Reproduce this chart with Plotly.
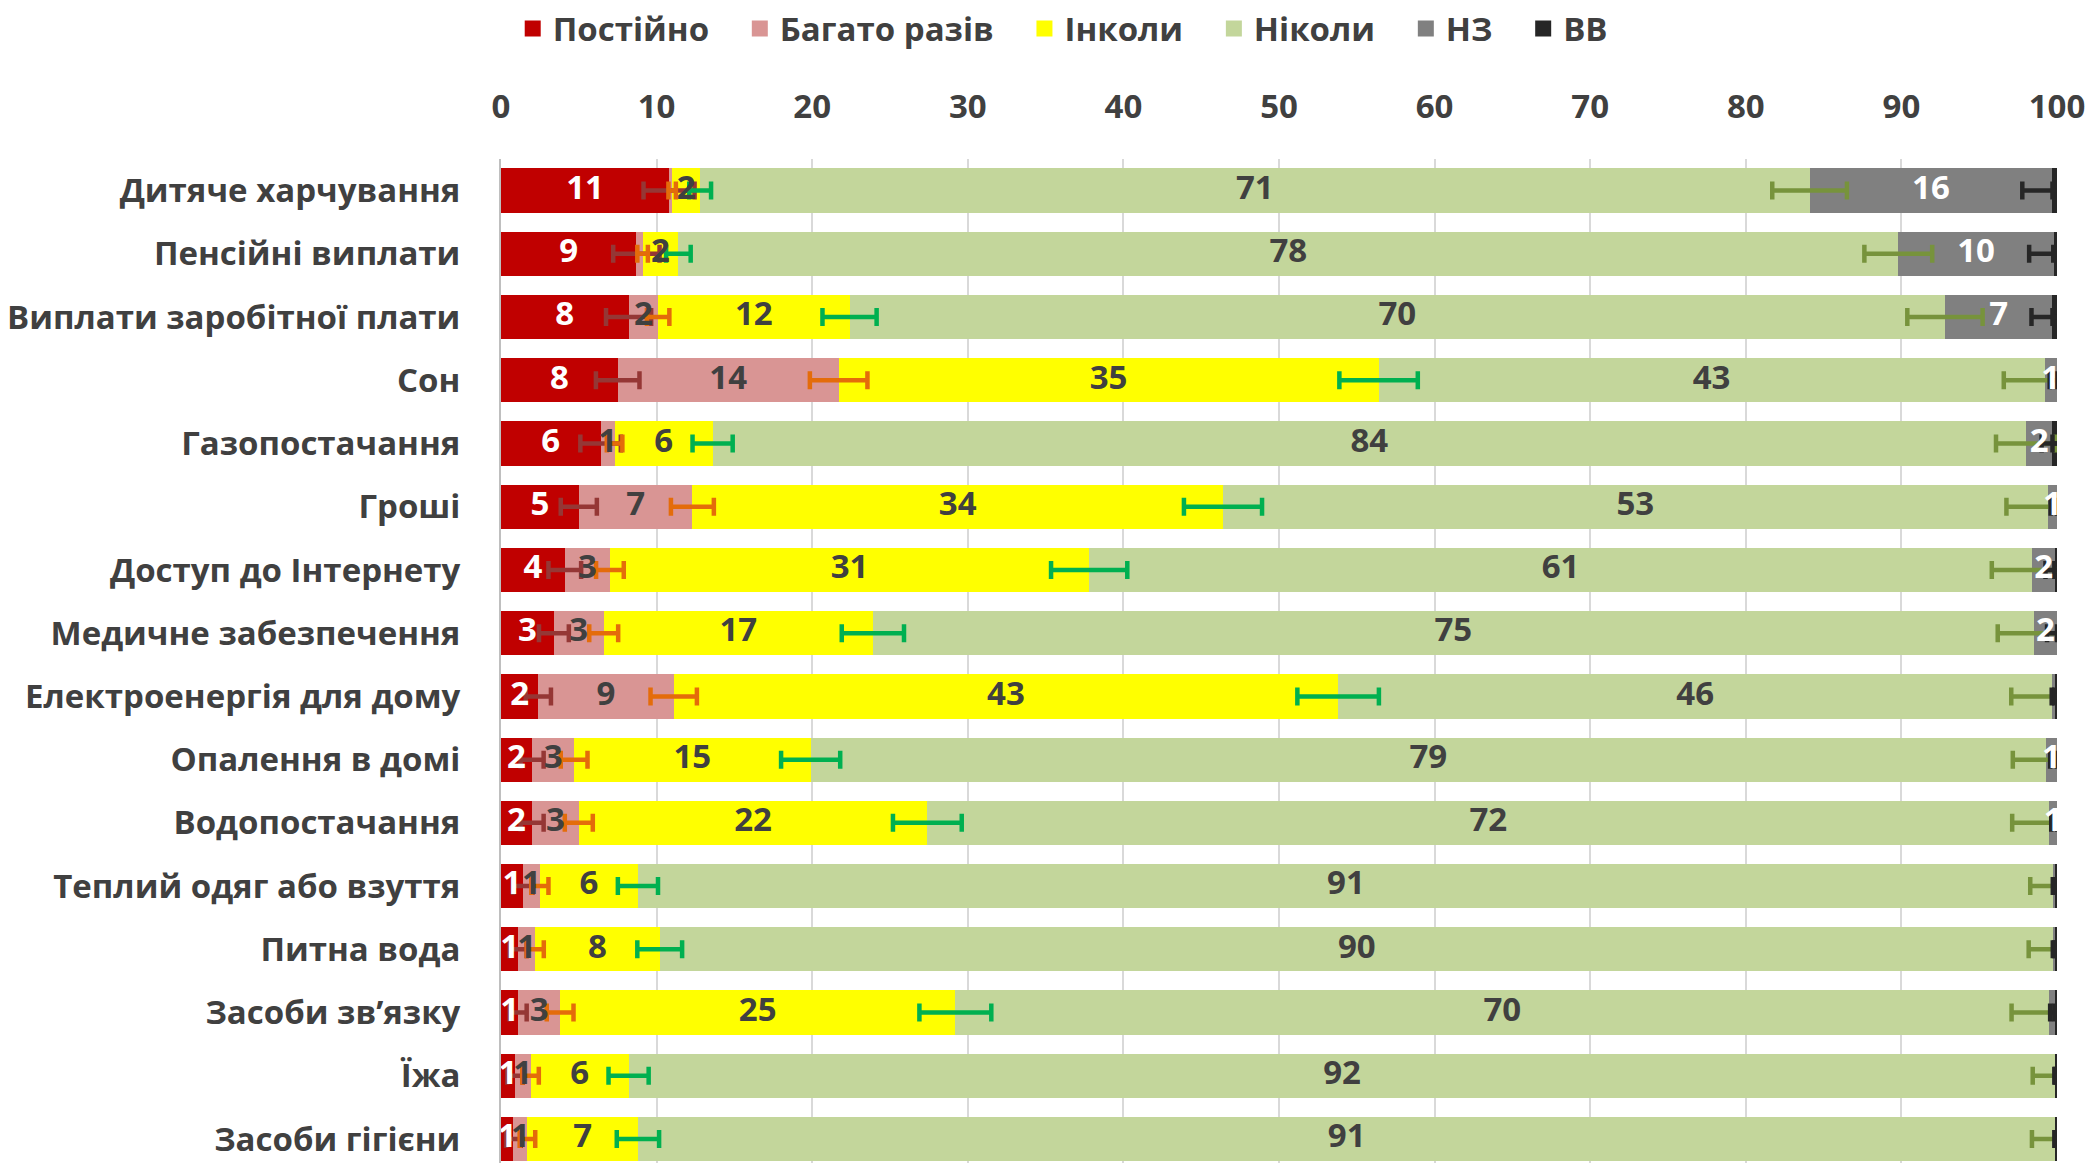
import plotly.graph_objects as go

categories = ["Дитяче харчування", "Пенсійні виплати", "Виплати заробітної плати", "Сон",
              "Газопостачання", "Гроші", "Доступ до Інтернету", "Медичне забезпечення",
              "Електроенергія для дому", "Опалення в домі", "Водопостачання",
              "Теплий одяг або взуття", "Питна вода", "Засоби зв’язку", "Їжа", "Засоби гігієни"]

series_names = ["Постійно", "Багато разів", "Інколи", "Ніколи", "НЗ", "ВВ"]

postiino = [10.8, 8.7, 8.2, 7.5, 6.4, 5.0, 4.1, 3.4, 2.4, 2.0, 2.0, 1.4, 1.1, 1.1, 0.9, 0.8]
bagato = [0.2, 0.4, 1.9, 14.2, 0.9, 7.3, 2.9, 3.2, 8.7, 2.7, 3.0, 1.1, 1.1, 2.7, 1.0, 0.9]
inkoly = [1.8, 2.3, 12.3, 34.7, 6.3, 34.1, 30.8, 17.3, 42.7, 15.2, 22.4, 6.3, 8.0, 25.4, 6.3, 7.1]
nikoly = [71.3, 78.4, 70.4, 42.8, 84.4, 53.0, 60.6, 74.6, 45.9, 79.4, 72.1, 91.0, 89.6, 70.3, 91.7, 91.1]
nz = [15.6, 10.0, 6.9, 0.8, 1.7, 0.6, 1.5, 1.5, 0.2, 0.7, 0.5, 0.1, 0.1, 0.4, 0.0, 0.0]
vv = [0.3, 0.2, 0.3, 0.0, 0.3, 0.0, 0.1, 0.0, 0.1, 0.0, 0.0, 0.1, 0.1, 0.1, 0.1, 0.1]

# error margins (+/-)
err_postiino = [1.64, 1.49, 1.45, 1.40, 1.30, 1.16, 1.05, 0.96, 0.81, 0.74, 0.74, 0.62, 0.55, 0.55, 0.50, 0.47]
err_bagato = [0.24, 0.34, 0.72, 1.85, 0.50, 1.38, 0.89, 0.93, 1.49, 0.86, 0.90, 0.55, 0.55, 0.86, 0.53, 0.50]
err_inkoly = [0.70, 0.79, 1.74, 2.52, 1.29, 2.51, 2.45, 2.00, 2.62, 1.90, 2.21, 1.29, 1.44, 2.31, 1.29, 1.36]
err_nikoly = [2.40, 2.18, 2.42, 2.62, 1.92, 2.65, 2.59, 2.31, 2.64, 2.14, 2.38, 1.52, 1.62, 2.42, 1.46, 1.51]
err_nz = [1.93, 1.59, 1.34, 0.47, 0.69, 0.41, 0.64, 0.64, 0.24, 0.44, 0.37, 0.17, 0.17, 0.34, 0.0, 0.0]
err_vv = [0.29, 0.24, 0.29, 0.0, 0.29, 0.0, 0.17, 0.0, 0.17, 0.0, 0.0, 0.17, 0.17, 0.17, 0.17, 0.17]

x_ticks = [0, 10, 20, 30, 40, 50, 60, 70, 80, 90, 100]

values = [postiino, bagato, inkoly, nikoly, nz, vv]
errors = [err_postiino, err_bagato, err_inkoly, err_nikoly, err_nz, err_vv]
bar_colors = ["#C00000", "#D99594", "#FFFF00", "#C3D69B", "#808080", "#262626"]
err_colors = ["#953735", "#E46C0A", "#00B050", "#77933C", "#262626", "#262626"]
label_colors = ["#FFFFFF", "#404040", "#404040", "#404040", "#FFFFFF", "#FFFFFF"]

FONT = "Open Sans"
FS = 33
TXT = "#404040"

fig = go.Figure()

# stacked bars
for name, vals, col in zip(series_names, values, bar_colors):
    fig.add_trace(go.Bar(
        y=categories, x=vals, name=name, orientation="h",
        marker=dict(color=col, line=dict(width=0)),
        showlegend=False, hoverinfo="x+name",
    ))

# cumulative positions
cum_end = []
cum_mid = []
running = [0.0] * len(categories)
for vals in values:
    mids = [r + v / 2 for r, v in zip(running, vals)]
    running = [r + v for r, v in zip(running, vals)]
    cum_mid.append(mids)
    cum_end.append(list(running))

# error bars at the end of each segment
for name, ends, errs, ecol in zip(series_names, cum_end, errors, err_colors):
    fig.add_trace(go.Scatter(
        y=categories, x=ends, mode="markers",
        marker=dict(size=1, color="rgba(0,0,0,0)"),
        error_x=dict(type="data", array=errs, symmetric=True, color=ecol,
                     thickness=4.5, width=9),
        showlegend=False, hoverinfo="skip",
    ))

# data labels
def lab(v):
    n = int(v + 0.5)
    return str(n) if n >= 1 else ""

for vals, mids, lcol in zip(values, cum_mid, label_colors):
    fig.add_trace(go.Scatter(
        y=categories, x=mids, mode="text", text=[lab(v) for v in vals],
        textposition="middle center",
        textfont=dict(family=FONT, size=FS, color=lcol, weight="bold"),
        showlegend=False, hoverinfo="skip",
    ))

# legend entries (trailing spaces widen the gap between entries)
for i, (name, col) in enumerate(zip(series_names, bar_colors)):
    pad = "" if i == len(series_names) - 1 else "   "
    fig.add_trace(go.Scatter(
        x=[None], y=[None], mode="markers", name=name + pad,
        marker=dict(symbol="square", size=16, color=col),
        showlegend=True,
    ))

fig.update_layout(
    width=2094, height=1163,
    margin=dict(l=501, r=37, t=159, b=0, pad=0),
    barmode="stack", bargap=0.30,
    plot_bgcolor="white", paper_bgcolor="white",
    font=dict(family=FONT, size=FS, color=TXT),
    legend=dict(orientation="h", x=0.361, xanchor="center", y=1.13, yanchor="middle",
                font=dict(family=FONT, size=FS, color=TXT, weight="bold"),
                itemsizing="trace", bgcolor="rgba(0,0,0,0)", traceorder="normal"),
    xaxis=dict(side="top", range=[0, 100], tickvals=x_ticks,
               ticktext=[str(t) for t in x_ticks],
               tickfont=dict(family=FONT, size=FS, color=TXT, weight="bold"),
               showgrid=True, gridcolor="#D9D9D9", gridwidth=1.5,
               zeroline=False, showline=False, ticks="", ticklabelstandoff=33),
    yaxis=dict(type="category", range=[15.38, -0.5],
               tickfont=dict(family=FONT, size=FS, color=TXT, weight="bold"),
               showgrid=False, zeroline=False, showline=True, linecolor="#BFBFBF",
               linewidth=2, ticks="", ticklabelstandoff=32),
)

fig.write_html("out.html", config={"displayModeBar": False},
               post_script="document.body.style.margin='0';")
